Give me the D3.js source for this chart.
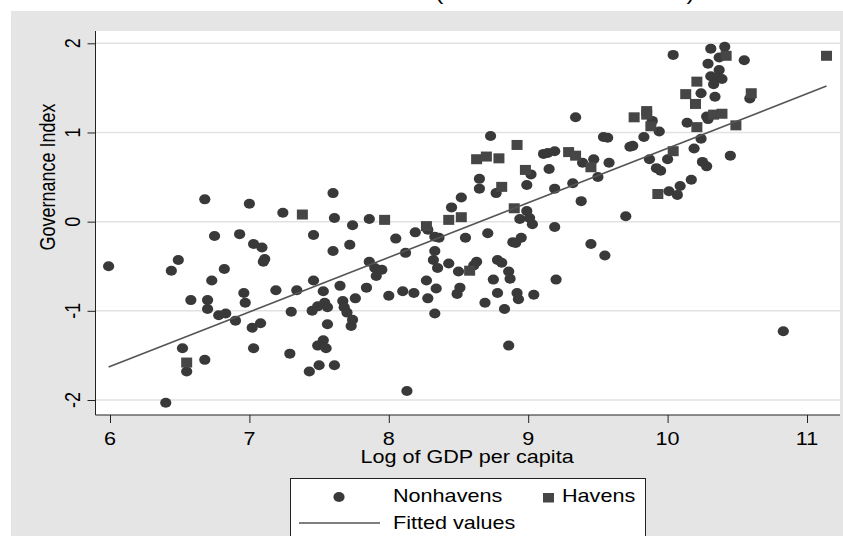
<!DOCTYPE html>
<html>
<head>
<meta charset="utf-8">
<script src="https://cdn.jsdelivr.net/npm/d3@7"></script>
<style>
  body { margin: 0; background: white; }
  text { font-family: "Liberation Sans", Arial, sans-serif; fill: black; }
</style>
</head>
<body>
<div id="chart"></div>
<script>
// Governance index vs log GDP per capita

// [log GDP per capita, governance index]
var nonhavens = [
  [5.99,-0.50],[6.49,-0.43],[6.44,-0.55],[6.75,-0.16],[6.93,-0.14],[7.03,-0.25],[7.09,-0.29],
  [7.46,-0.15],[7.60,-0.33],[7.11,-0.42],[7.10,-0.45],[6.82,-0.53],[6.73,-0.66],[6.96,-0.80],
  [7.19,-0.77],[7.34,-0.77],[7.46,-0.66],[7.53,-0.78],[7.65,-0.72],[6.58,-0.88],[6.70,-0.88],
  [6.70,-0.98],[6.97,-0.91],[6.78,-1.05],[6.83,-1.03],[6.90,-1.11],[7.30,-1.01],[7.45,-1.00],
  [7.49,-0.95],[7.54,-0.91],[7.56,-0.96],[7.67,-0.89],[7.68,-0.96],[7.02,-1.19],[7.08,-1.14],
  [7.56,-1.15],[6.52,-1.42],[7.03,-1.42],[7.53,-1.33],[7.49,-1.39],[7.55,-1.42],[7.29,-1.48],
  [6.68,-1.55],[6.55,-1.68],[7.50,-1.61],[7.61,-1.61],[7.43,-1.68],[6.40,-2.03],[6.68,0.25],
  [7.00,0.20],[7.24,0.10],[7.60,0.32],[7.61,0.04],[7.74,-0.04],[7.86,0.03],[8.28,-0.09],
  [8.19,-0.12],[8.05,-0.19],[8.33,-0.17],[8.36,-0.18],[8.55,-0.18],[8.71,-0.13],[8.99,0.12],
  [8.94,0.03],[9.01,0.04],[9.03,-0.03],[9.19,-0.06],[8.89,-0.23],[8.91,-0.24],[8.95,-0.18],
  [9.38,0.23],[7.72,-0.26],[8.12,-0.35],[8.33,-0.33],[7.86,-0.45],[7.90,-0.52],[7.95,-0.54],
  [7.91,-0.61],[8.32,-0.43],[8.35,-0.52],[8.43,-0.47],[8.50,-0.56],[8.63,-0.45],[8.61,-0.49],
  [8.78,-0.43],[8.81,-0.46],[8.86,-0.56],[8.87,-0.64],[7.84,-0.74],[8.27,-0.66],[8.34,-0.75],
  [8.28,-0.86],[8.10,-0.78],[8.18,-0.80],[8.00,-0.83],[7.76,-0.86],[7.70,-1.02],[7.74,-1.10],
  [7.73,-1.17],[8.51,-0.74],[8.49,-0.81],[8.75,-0.65],[8.69,-0.91],[8.78,-0.80],[8.83,-0.98],
  [8.92,-0.80],[8.93,-0.87],[9.04,-0.82],[9.20,-0.65],[8.33,-1.03],[8.86,-1.39],[8.13,-1.90],
  [8.45,0.16],[8.52,0.27],[9.34,1.17],[8.73,0.96],[9.11,0.76],[9.14,0.77],[9.19,0.79],
  [9.02,0.53],[9.15,0.59],[8.65,0.48],[8.65,0.37],[8.77,0.32],[8.99,0.41],[9.19,0.37],
  [9.32,0.43],[9.39,0.66],[10.04,1.87],[10.31,1.94],[10.41,1.96],[10.37,1.84],[10.55,1.81],
  [10.29,1.77],[10.37,1.70],[10.31,1.63],[10.36,1.62],[10.39,1.60],[10.33,1.54],[10.24,1.44],
  [10.34,1.40],[10.59,1.38],[9.89,1.13],[9.94,1.01],[9.83,0.95],[9.54,0.95],[9.57,0.94],
  [9.73,0.84],[9.75,0.85],[10.14,1.11],[10.28,1.18],[10.29,1.15],[10.24,0.93],[10.19,0.82],
  [10.45,0.74],[10.00,0.70],[9.87,0.70],[9.92,0.60],[9.95,0.57],[10.25,0.67],[10.28,0.62],
  [9.58,0.66],[9.47,0.70],[9.50,0.50],[10.17,0.47],[10.09,0.40],[10.01,0.34],[10.07,0.30],
  [9.70,0.06],[9.45,-0.25],[9.55,-0.38],[10.83,-1.23]
];

var havens = [
  [7.38,0.08],[6.55,-1.58],[7.97,0.02],[8.27,-0.05],[8.43,0.02],[8.52,0.05],[8.58,-0.55],
  [8.90,0.15],[8.92,0.86],[8.63,0.70],[8.70,0.73],[8.79,0.71],[9.29,0.78],[9.34,0.74],
  [8.98,0.58],[8.81,0.39],[10.42,1.86],[11.14,1.86],[10.21,1.57],[10.13,1.43],[10.20,1.32],
  [10.60,1.44],[9.76,1.17],[9.85,1.24],[9.85,1.20],[9.88,1.07],[10.33,1.20],[10.39,1.21],
  [10.21,1.06],[10.49,1.08],[10.04,0.79],[9.45,0.61],[9.93,0.31]
];

// fitted line end points
var fitX = [5.99, 11.14];
var fitY = [-1.63, 1.52];

var xTicks = [6, 7, 8, 9, 10, 11];
var yTicks = [-2, -1, 0, 1, 2];

var width = 843, height = 536;
var stretch = 1.2; // text looks wider than tall in the original

var svg = d3.select("#chart").append("svg")
    .attr("width", width)
    .attr("height", height);

// stretched text helper
function label(g, x, y, str, anchor, size, rot) {
    return g.append("text")
        .attr("transform", `translate(${x},${y}) scale(${stretch},1)` + (rot ? ` rotate(${rot})` : ""))
        .attr("text-anchor", anchor)
        .attr("font-size", size)
        .text(str);
}

// outer gray area
svg.append("rect")
    .attr("x", 11).attr("y", 11)
    .attr("width", width - 11).attr("height", height - 11)
    .attr("fill", "#e5e5e5");

// title (mostly cut off at top)
label(svg, 694, 0, "Governance and Income (Nonhavens and Havens)", "end", 19);

var plot = { left: 95.5, right: 840, top: 31, bottom: 415 };

svg.append("rect")
    .attr("x", plot.left).attr("y", plot.top)
    .attr("width", plot.right - plot.left)
    .attr("height", plot.bottom - plot.top)
    .attr("fill", "white");

var xScale = d3.scaleLinear().domain([6, 11]).range([110, 807]);
var yScale = d3.scaleLinear().domain([-2, 2]).range([400, 43.3]);

// grid
svg.append("g").selectAll("line")
    .data(yTicks).enter()
    .append("line")
    .attr("x1", plot.left).attr("x2", plot.right)
    .attr("y1", d => yScale(d)).attr("y2", d => yScale(d))
    .attr("stroke", "#e2e2e2")
    .attr("stroke-width", 1.5);

// axes
var xAxis = d3.axisBottom(xScale).tickValues(xTicks).tickSize(8).tickFormat("");
var yAxis = d3.axisLeft(yScale).tickValues(yTicks).tickSize(8).tickFormat("");

var gx = svg.append("g")
    .attr("transform", `translate(0,${plot.bottom})`)
    .call(xAxis);
gx.select(".domain").attr("d", `M${plot.left},0H${plot.right}`).attr("stroke", "#222");
gx.selectAll(".tick line").attr("stroke", "#222");

var gy = svg.append("g")
    .attr("transform", `translate(${plot.left},0)`)
    .call(yAxis);
gy.select(".domain").attr("d", `M0,${plot.top}V${plot.bottom}`).attr("stroke", "#222");
gy.selectAll(".tick line").attr("stroke", "#222");

// tick labels
xTicks.forEach(t => label(svg, xScale(t), 445, t, "middle", 18));
yTicks.forEach(t => label(svg, 80, yScale(t), t, "middle", 18, -90));

// axis titles
label(svg, 467, 463, "Log of GDP per capita", "middle", 18);
label(svg, 55, 177, "Governance Index", "middle", 18, -90);

// points
svg.append("g").selectAll("ellipse")
    .data(nonhavens).enter()
    .append("ellipse")
    .attr("cx", d => xScale(d[0]))
    .attr("cy", d => yScale(d[1]))
    .attr("rx", 5.6)
    .attr("ry", 5)
    .attr("fill", "#393939");

svg.append("g").selectAll("rect")
    .data(havens).enter()
    .append("rect")
    .attr("x", d => xScale(d[0]) - 5.5)
    .attr("y", d => yScale(d[1]) - 5)
    .attr("width", 11)
    .attr("height", 10)
    .attr("fill", "#464646");

// fitted values
var line = d3.line().x(d => xScale(d[0])).y(d => yScale(d[1]));
svg.append("path")
    .attr("d", line(d3.zip(fitX, fitY)))
    .attr("fill", "none")
    .attr("stroke", "#555")
    .attr("stroke-width", 1.6);

// legend
var legend = svg.append("g");
legend.append("rect")
    .attr("x", 290.5).attr("y", 478.5)
    .attr("width", 355).attr("height", 70)
    .attr("fill", "white")
    .attr("stroke", "#222");
legend.append("ellipse")
    .attr("cx", 339).attr("cy", 497)
    .attr("rx", 5.6).attr("ry", 5)
    .attr("fill", "#393939");
label(legend, 393, 502, "Nonhavens", "start", 18);
legend.append("rect")
    .attr("x", 543).attr("y", 493)
    .attr("width", 11).attr("height", 9.5)
    .attr("fill", "#464646");
label(legend, 562, 502, "Havens", "start", 18);
legend.append("line")
    .attr("x1", 299).attr("x2", 380)
    .attr("y1", 523).attr("y2", 523)
    .attr("stroke", "#555")
    .attr("stroke-width", 1.6);
label(legend, 393, 529, "Fitted values", "start", 18);
</script>
</body>
</html>
